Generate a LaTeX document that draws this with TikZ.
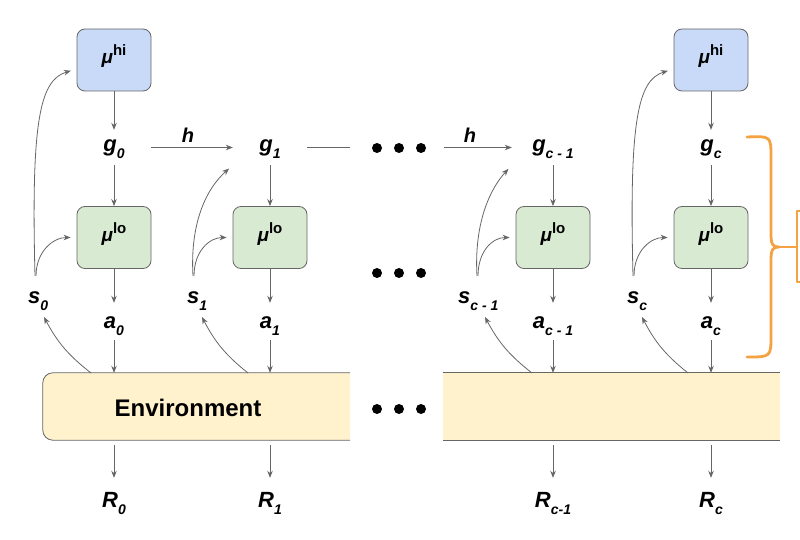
\documentclass[tikz,border=0pt]{standalone}
\usepackage{fontspec}
\setmainfont{Liberation Sans}
\usetikzlibrary{arrows.meta,calc}
\definecolor{linegray}{RGB}{102,102,102}
\definecolor{hiblue}{RGB}{201,218,248}
\definecolor{logreen}{RGB}{217,234,211}
\definecolor{envyellow}{RGB}{255,242,204}
\definecolor{bracorange}{RGB}{244,162,66}
\newcommand\mylab[2]{\fontsize{22}{22}\selectfont\bfseries\itshape #1\raisebox{-7pt}{\fontsize{14}{14}\selectfont #2}}
\newcommand\mubox[1]{\fontsize{19}{19}\selectfont\bfseries\itshape μ\raisebox{8pt}{\upshape\fontsize{15}{15}\selectfont #1}}
\begin{document}
\begin{tikzpicture}[x=1pt,y=-1pt,
  arr/.style={draw=linegray, line width=0.8pt, -{Stealth[length=7pt,width=5.5pt]}},
  plainline/.style={draw=linegray, line width=0.8pt},
  hibox/.style={draw=linegray, fill=hiblue, rounded corners=8pt, minimum width=74pt, minimum height=62pt, inner sep=0pt, line width=0.8pt, text height=12pt, text depth=4pt},
  lobox/.style={hibox, fill=logreen},
  gnode/.style={inner sep=0pt, anchor=base, text height=22pt, text depth=13pt, minimum width=74pt},
  anode/.style={inner sep=0pt, anchor=base, text height=25pt, text depth=12pt},
  snode/.style={inner sep=0pt, anchor=base west},
  rnode/.style={inner sep=0pt, anchor=base, text height=29pt, text depth=5pt},
  hlab/.style={inner sep=0pt, anchor=base, font=\fontsize{20}{20}\selectfont\bfseries\itshape},
  envpart/.style={inner sep=0pt, minimum height=67pt},
  dotn/.style={circle, fill=black, minimum size=10pt, inner sep=0pt},
  brace/.style={draw=bracorange, line width=2.8pt, line cap=round, line join=round}
]
\useasboundingbox (0,0) rectangle (800,540);
\clip (0,0) rectangle (800,540);

% environment
\node[envpart, minimum width=307pt] (envL) at (196.5,406.5) {};
\node[envpart, minimum width=337pt] (envR) at (611.5,406.5) {};
\path[fill=envyellow, draw=linegray, line width=0.8pt, rounded corners=10pt]
  (envL.north east) -- (envL.north west) -- (envL.south west) -- (envL.south east);
\fill[envyellow] (envR.north west) rectangle (envR.south east);
\draw[plainline] (envR.north west) -- (envR.north east);
\draw[plainline] (envR.south west) -- (envR.south east);
\node[font=\fontsize{24}{24}\selectfont\bfseries, inner sep=0pt] (envtxt) at (188,408) {Environment};

% column 0
\node[hibox] (hi0) at (114,60) {\mubox{hi}};
\node[gnode] (g0) at (114,152) {\mylab{g}{0}};
\node[lobox] (lo0) at (114,237.5) {\mubox{lo}};
\node[snode] (s0) at (28,303) {\mylab{s}{0}};
\node[anode] (a0) at (114,328) {\mylab{a}{0}};
\node[rnode] (R0) at (114,507) {\mylab{R}{0}};

% column 1
\node[gnode] (g1) at (270,152) {\mylab{g}{1}};
\node[lobox] (lo1) at (270,237.5) {\mubox{lo}};
\node[snode] (s1) at (187,303) {\mylab{s}{1}};
\node[anode] (a1) at (270,328) {\mylab{a}{1}};
\node[rnode] (R1) at (270,507) {\mylab{R}{1}};

% column c-1
\node[gnode, minimum width=82pt] (gc1) at (553,152) {\mylab{g}{c - 1}};
\node[lobox] (loc1) at (553,237.5) {\mubox{lo}};
\node[snode] (sc1) at (458,303) {\mylab{s}{c - 1}};
\node[anode] (ac1) at (553,328) {\mylab{a}{c - 1}};
\node[rnode] (Rc1) at (553,507) {\mylab{R}{c-1}};

% column c
\node[hibox] (hic) at (711,60) {\mubox{hi}};
\node[gnode] (gc) at (711,152) {\mylab{g}{c}};
\node[lobox] (loc) at (711,237.5) {\mubox{lo}};
\node[snode] (sc) at (627,303) {\mylab{s}{c}};
\node[anode] (ac) at (711,328) {\mylab{a}{c}};
\node[rnode] (Rc) at (711,507) {\mylab{R}{c}};

% h labels
\node[hlab] (h1) at (188,143) {h};
\node[hlab] (h2) at (470,143) {h};

% dots
\foreach \i/\x in {1/377,2/399,3/421}{
  \node[dotn] (dt\i) at (\x,148) {};
  \node[dotn] (dm\i) at (\x,273) {};
  \node[dotn] (db\i) at (\x,409) {};
}

% vertical arrows
\draw[arr] (hi0) -- (g0);
\draw[arr] (hic) -- (gc);
\foreach \g/\l/\a/\r/\e in {g0/lo0/a0/R0/envL, g1/lo1/a1/R1/envL, gc1/loc1/ac1/Rc1/envR, gc/loc/ac/Rc/envR}{
  \draw[arr] (\g) -- (\l);
  \draw[arr] (\l) -- (\a);
  \draw[arr] (\a) -- (\a |- \e.north);
  \draw[arr, shorten <=5pt] (\r |- \e.south) -- (\r);
}

% horizontal
\coordinate (l1) at (350,147.5);
\coordinate (l2) at (444,147.5);
\draw[arr] (g0) -- (g1);
\draw[plainline] (g1) -- (l1);
\draw[arr] (l2) -- (gc1);

% state curves up
\coordinate (s0u1) at (35,276);  \coordinate (s0u2) at (36,276);
\coordinate (s1u1) at (193,276); \coordinate (s1u2) at (194,276);
\coordinate (sc1u1) at (477,276); \coordinate (sc1u2) at (478,276);
\coordinate (scu1) at (633,276); \coordinate (scu2) at (634,276);

\draw[arr, shorten >=6pt] (s0u1) .. controls (31,120) and (40,80) .. ([yshift=-9pt]hi0.west);
\draw[arr, shorten >=6pt] (scu1) .. controls (629,120) and (638,80) .. ([yshift=-9pt]hic.west);
\draw[arr, shorten >=5pt] (s1u1) .. controls (190,225) and (205,190) .. (g1.south west);
\draw[arr, shorten >=5pt] (sc1u1) .. controls (474,225) and (489,190) .. (gc1.south west);
\foreach \u/\l in {s0u2/lo0, s1u2/lo1, sc1u2/loc1, scu2/loc}{
  \draw[arr, shorten >=6pt] (\u) .. controls ($(\u)+(0,-25)$) and ($(\l.west)+(-23,0)$) .. (\l.west);
}

% env to states
\coordinate (e0) at (91,373);   \coordinate (t0) at (44,317);
\coordinate (e1) at (248,373);  \coordinate (t1) at (202,317);
\coordinate (ec1) at (532,373); \coordinate (tc1) at (485,317);
\coordinate (ec) at (688,373);  \coordinate (tc) at (642,317);
\foreach \e/\t in {e0/t0, e1/t1, ec1/tc1, ec/tc}{
  \draw[arr] (\e) to[bend left=12] (\t);
}

% orange brace and box
\coordinate (btip) at (779,247);
\coordinate (bend) at (797,247);
\draw[brace] (747,137) .. controls (771,136) .. (771,158) -- (771,234)
  .. controls (771,245) and (773,247) .. (btip)
  .. controls (773,247) and (771,249) .. (771,260) -- (771,335)
  .. controls (771,357) .. (747,357);
\draw[brace, line width=2.2pt] (btip) -- (bend);
\draw[brace, line width=2.2pt] (830,211) -- (797,211) -- (797,282) -- (830,282);
\end{tikzpicture}
\end{document}
